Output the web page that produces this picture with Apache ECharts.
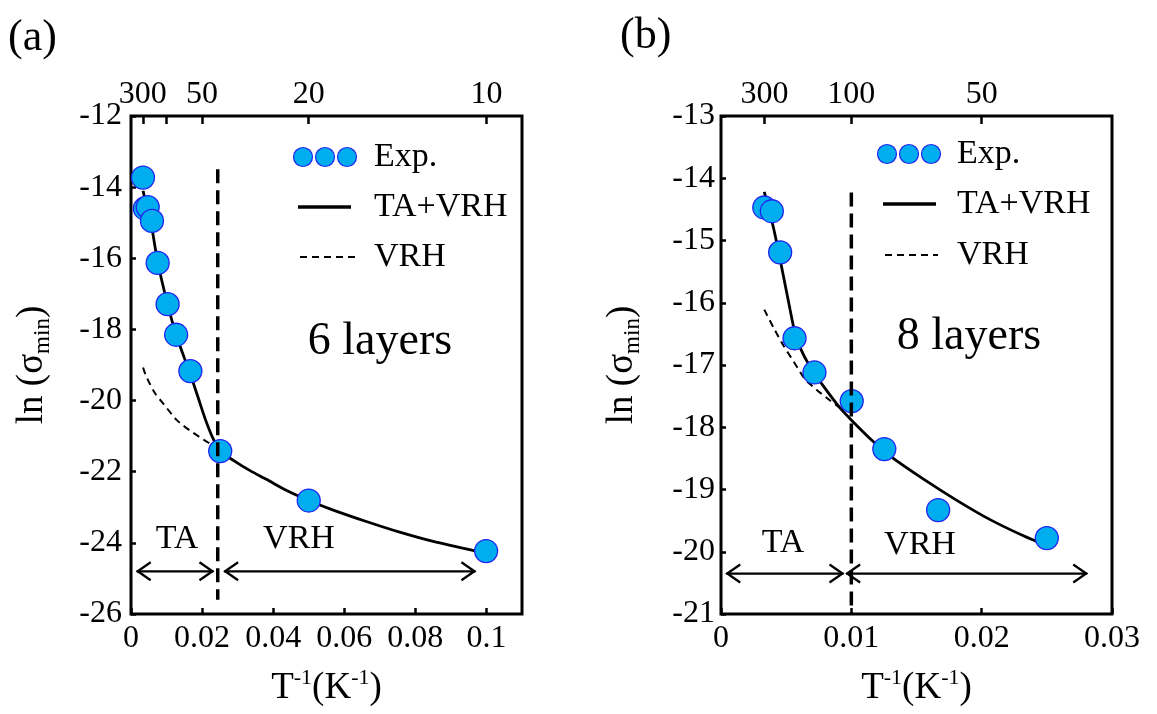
<!DOCTYPE html>
<html><head><meta charset="utf-8">
<script src="https://cdn.jsdelivr.net/npm/echarts@6/dist/echarts.min.js"></script>
<style>html,body{margin:0;padding:0;background:#fff}#c{width:1157px;height:714px}</style>
</head><body><div id="c"></div>
<script>
// ---------- Panel (a): 6 layers ----------
const A_exp_x = [0.00337, 0.0039, 0.0047, 0.0059, 0.0075, 0.0103, 0.0127, 0.0167, 0.0251, 0.050, 0.0999];
const A_exp_y = [-13.73, -14.60, -14.56, -14.95, -16.13, -17.29, -18.15, -19.17, -21.42, -22.81, -24.23];
const A_fit_x = [0.0034, 0.0045, 0.0057, 0.0075, 0.0103, 0.0127, 0.0150, 0.0170, 0.0190, 0.0210, 0.0230, 0.0251, 0.0288, 0.0335, 0.0382, 0.0438, 0.050, 0.0569, 0.0662, 0.0756, 0.085, 0.0971];
const A_fit_y = [-14.10, -14.60, -15.05, -16.10, -17.30, -18.15, -18.80, -19.35, -19.95, -20.55, -21.05, -21.42, -21.68, -21.97, -22.22, -22.53, -22.81, -23.08, -23.40, -23.70, -23.96, -24.23];
const A_vrh_x = [0.0034, 0.0040, 0.0054, 0.0068, 0.0092, 0.0129, 0.0167, 0.0204, 0.0237, 0.0251];
const A_vrh_y = [-19.07, -19.25, -19.55, -19.80, -20.10, -20.55, -20.85, -21.10, -21.30, -21.42];
const A_divider_x = [0.0244, 0.0244];
const A_divider_y = [-13.5, -25.6];
const A_arrows = [[0.0016, 0.0232, -24.8], [0.0262, 0.0969, -24.8]];
const A_xticks = [0, 0.02, 0.04, 0.06, 0.08, 0.1];
const A_Ttop_ticks = [300, 100, 50, 20, 10];
const A_Ttop_labels = [300, 50, 20, 10];

// ---------- Panel (b): 8 layers ----------
const B_exp_x = [0.00332, 0.0039, 0.00454, 0.00564, 0.00717, 0.01003, 0.01253, 0.01666, 0.0250];
const B_exp_y = [-14.47, -14.53, -15.19, -16.57, -17.12, -17.58, -18.35, -19.33, -19.78];
const B_fit_x = [0.00332, 0.00403, 0.00454, 0.0053, 0.00564, 0.00607, 0.00684, 0.00786, 0.00913, 0.01003, 0.01168, 0.01296, 0.01551, 0.01806, 0.02061, 0.02316, 0.02495];
const B_fit_y = [-14.22, -14.80, -15.31, -16.11, -16.45, -16.72, -17.03, -17.34, -17.69, -17.89, -18.23, -18.46, -18.83, -19.17, -19.48, -19.74, -19.90];
const B_vrh_x = [0.00332, 0.00403, 0.0048, 0.00556, 0.00645, 0.00735, 0.00837, 0.00913];
const B_vrh_y = [-16.11, -16.40, -16.69, -16.94, -17.23, -17.40, -17.57, -17.69];
const B_divider_x = [0.0100, 0.0100];
const B_divider_y = [-14.23, -21.0];
const B_arrows = [[0.0004, 0.0094, -20.35], [0.0096, 0.0281, -20.35]];
const B_xticks = [0, 0.01, 0.02, 0.03];
const B_Ttop_ticks = [300, 100, 50];
const B_Ttop_labels = [300, 100, 50];

const zip = (xs, ys) => xs.map((x, i) => [x, ys[i]]);
const FONT = 'Liberation Serif';
const MK_FILL = '#00AEEF', MK_EDGE = '#2323F0';
const TICK_FS = 32;
const tickRich = {t: {fontFamily: FONT, fontSize: TICK_FS, color: '#000'}};

const chart = echarts.init(document.getElementById('c'), null, {renderer: 'canvas'});

function bottomAxis(gi, max, ticks) {
  return {
    gridIndex: gi, type: 'value', position: 'bottom', min: 0, max: max,
    axisLine: {show: false},
    axisTick: {show: true, inside: true, length: 6, lineStyle: {color: '#000', width: 2.5}, customValues: ticks},
    axisLabel: {show: true, customValues: ticks, margin: 9, color: '#000', fontFamily: FONT, fontSize: TICK_FS, rich: tickRich,
      formatter: v => '{t|' + String(+v.toFixed(3)) + '}'},
    splitLine: {show: false},
    name: 'T{sup|-1}(K{sup|-1})', nameLocation: 'middle', nameGap: 53,
    nameTextStyle: {color: '#000', fontFamily: FONT, fontSize: 37, lineHeight: 42,
      rich: {sup: {fontFamily: FONT, fontSize: 22, verticalAlign: 'top', lineHeight: 24, color: '#000'}}}
  };
}
function topAxis(gi, max, tickT, labelT) {
  return {
    gridIndex: gi, type: 'value', position: 'top', min: 0, max: max,
    axisLine: {show: false},
    axisTick: {show: true, inside: true, length: 8, lineStyle: {color: '#000', width: 2.5}, customValues: tickT.map(t => 1 / t)},
    axisLabel: {show: true, customValues: labelT.map(t => 1 / t), margin: 5, color: '#000', fontFamily: FONT, fontSize: TICK_FS, rich: tickRich,
      formatter: v => '{t|' + String(Math.round(1 / v)) + '}'},
    splitLine: {show: false}
  };
}
function leftAxis(gi, min, max, interval, margin) {
  return {
    gridIndex: gi, type: 'value', min: min, max: max, interval: interval,
    axisLine: {show: false},
    axisTick: {show: true, inside: true, length: 5, lineStyle: {color: '#000', width: 2.5}},
    axisLabel: {margin: margin, color: '#000', fontFamily: FONT, fontSize: TICK_FS, rich: tickRich,
      formatter: v => '{t|' + String(v) + '}'},
    splitLine: {show: false},
    name: 'ln (σ{sub|min})', nameLocation: 'middle', nameGap: 77,
    nameTextStyle: {color: '#000', fontFamily: FONT, fontSize: 37, lineHeight: 44,
      rich: {sub: {fontFamily: FONT, fontSize: 23, verticalAlign: 'bottom', lineHeight: 23, color: '#000'}}}
  };
}

function arrowRender(params, api) {
  const p1 = api.coord([api.value(0), api.value(2)]);
  const p2 = api.coord([api.value(1), api.value(2)]);
  const h = 14, w = 9;
  const st = {stroke: '#000', lineWidth: 2.3, fill: null};
  return {type: 'group', children: [
    {type: 'line', shape: {x1: p1[0], y1: p1[1], x2: p2[0], y2: p2[1]}, style: st},
    {type: 'polyline', shape: {points: [[p1[0] + h, p1[1] - w], [p1[0] + 1, p1[1]], [p1[0] + h, p1[1] + w]]}, style: st},
    {type: 'polyline', shape: {points: [[p2[0] - h, p2[1] - w], [p2[0] - 1, p2[1]], [p2[0] - h, p2[1] + w]]}, style: st}
  ]};
}

function panelSeries(xi, yi, exp, fit, vrh, divider, arrows) {
  return [
    {type: 'line', xAxisIndex: xi, yAxisIndex: yi, data: vrh, showSymbol: false, symbol: 'none', smooth: 0.25,
      lineStyle: {color: '#000', width: 2, type: [7, 5]}, z: 2, silent: true},
    {type: 'line', xAxisIndex: xi, yAxisIndex: yi, data: fit, showSymbol: false, symbol: 'none', smooth: 0.25,
      lineStyle: {color: '#000', width: 2.8}, z: 3, silent: true},
    {type: 'scatter', xAxisIndex: xi, yAxisIndex: yi, data: exp, symbol: 'circle', symbolSize: 23,
      itemStyle: {color: MK_FILL, borderColor: MK_EDGE, borderWidth: 1.3, opacity: 1}, z: 4, silent: true},
    {type: 'line', xAxisIndex: xi, yAxisIndex: yi, data: divider, showSymbol: false, symbol: 'none',
      lineStyle: {color: '#000', width: 3.5, type: [14, 7]}, z: 5, silent: true},
    {type: 'custom', xAxisIndex: xi, yAxisIndex: yi, data: arrows, renderItem: arrowRender,
      encode: {x: [0, 1], y: 2}, z: 5, silent: true}
  ];
}

function txt(x, y, s, size, align) {
  return {type: 'text', x: x, y: y, z: 10,
    style: {text: s, fontFamily: FONT, fontSize: size, fill: '#000', align: align || 'left', verticalAlign: 'middle'}};
}
function legend(x0, yE, yF, yV, cx, lineX1, lineX2, dashX1, dashX2) {
  const c = (x) => ({type: 'circle', shape: {cx: x, cy: yE, r: 9.5}, style: {fill: MK_FILL, stroke: MK_EDGE, lineWidth: 1.2}, z: 10});
  return [
    c(cx[0]), c(cx[1]), c(cx[2]),
    txt(x0, yE, 'Exp.', 34),
    {type: 'line', shape: {x1: lineX1, y1: yF, x2: lineX2, y2: yF}, style: {stroke: '#000', lineWidth: 3.5}, z: 10},
    txt(x0, yF, 'TA+VRH', 34),
    {type: 'line', shape: {x1: dashX1, y1: yV, x2: dashX2, y2: yV}, style: {stroke: '#000', lineWidth: 2, lineDash: [7, 5]}, z: 10},
    txt(x0, yV, 'VRH', 34)
  ];
}

const option = {
  backgroundColor: '#fff',
  animation: false,
  textStyle: {fontFamily: FONT},
  grid: [
    {left: 131, top: 116, width: 391, height: 498, show: true, borderColor: '#000', borderWidth: 3, backgroundColor: 'transparent'},
    {left: 721, top: 116, width: 391, height: 498, show: true, borderColor: '#000', borderWidth: 3, backgroundColor: 'transparent'}
  ],
  xAxis: [
    bottomAxis(0, 0.11, A_xticks),
    topAxis(0, 0.11, A_Ttop_ticks, A_Ttop_labels),
    bottomAxis(1, 0.03, B_xticks),
    topAxis(1, 0.03, B_Ttop_ticks, B_Ttop_labels)
  ],
  yAxis: [
    leftAxis(0, -26, -12, 2, 9),
    leftAxis(1, -21, -13, 1, 6)
  ],
  series: [
    ...panelSeries(0, 0, zip(A_exp_x, A_exp_y), zip(A_fit_x, A_fit_y), zip(A_vrh_x, A_vrh_y), zip(A_divider_x, A_divider_y), A_arrows),
    ...panelSeries(2, 1, zip(B_exp_x, B_exp_y), zip(B_fit_x, B_fit_y), zip(B_vrh_x, B_vrh_y), zip(B_divider_x, B_divider_y), B_arrows)
  ],
  graphic: [
    txt(8, 38, '(a)', 44),
    txt(620, 36, '(b)', 44),
    ...legend(374, 157, 207, 257, [303, 325, 347], 298, 351, 300, 355),
    ...legend(957, 154, 204, 255, [887, 909, 931], 883, 936, 885, 938),
    txt(380, 342, '6 layers', 46, 'center'),
    txt(969, 337, '8 layers', 46, 'center'),
    txt(177, 539, 'TA', 34, 'center'),
    txt(299, 539, 'VRH', 34, 'center'),
    txt(783, 543, 'TA', 34, 'center'),
    txt(920, 545, 'VRH', 34, 'center')
  ]
};
chart.setOption(option);
</script>
</body></html>
